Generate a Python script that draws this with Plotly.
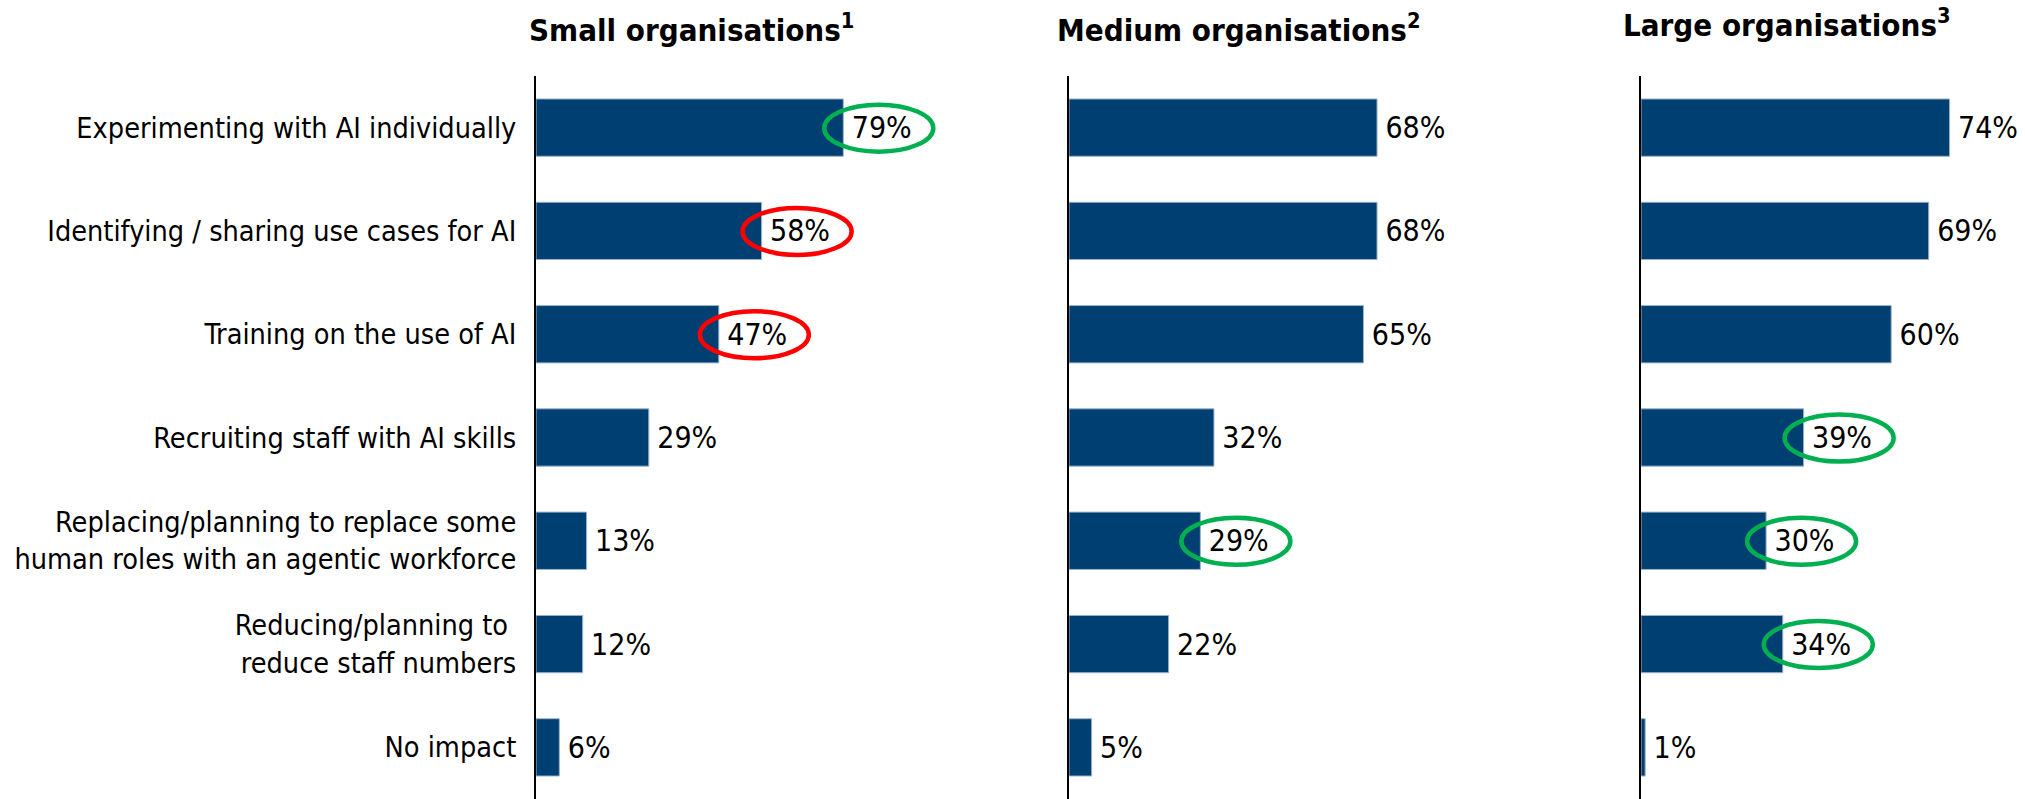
import plotly.graph_objects as go

categories = [
    "Experimenting with AI individually",
    "Identifying / sharing use cases for AI",
    "Training on the use of AI",
    "Recruiting staff with AI skills",
    "Replacing/planning to replace some<br>human roles with an agentic workforce",
    "Reducing/planning to <br>reduce staff numbers",
    "No impact",
]
small_values = [79, 58, 47, 29, 13, 12, 6]
medium_values = [68, 68, 65, 32, 29, 22, 5]
large_values = [74, 69, 60, 39, 30, 34, 1]
panel_titles = [
    "Small organisations<sup>1</sup>",
    "Medium organisations<sup>2</sup>",
    "Large organisations<sup>3</sup>",
]
# highlighted labels: (category index, colour key)
small_marks = [(0, "up"), (1, "down"), (2, "down")]
medium_marks = [(4, "up")]
large_marks = [(3, "up"), (4, "up"), (5, "up")]

W, H = 2025, 799
FONT = "DejaVu Sans Condensed, DejaVu Sans, Verdana, sans-serif"
BAR = "#003F72"
MARK_COL = {"up": "#00B050", "down": "#FF0000"}

# pixel layout
axis_px = [536, 1069, 1641]
px_per_unit = [3.89, 4.53, 4.17]
ranges = [120, 100, 90]
top_px = 76

fig = go.Figure()
panels = [small_values, medium_values, large_values]
marks = [small_marks, medium_marks, large_marks]
for i, vals in enumerate(panels):
    xa = "x" if i == 0 else f"x{i+1}"
    ya = "y" if i == 0 else f"y{i+1}"
    fig.add_trace(go.Bar(
        x=vals, y=categories, orientation="h",
        marker=dict(color=BAR, line=dict(color="#9DB4CC", width=1)),
        width=0.555,
        text=[f"\u2009{v}%" for v in vals],
        textposition="outside", constraintext="none", cliponaxis=False,
        textfont=dict(family=FONT, size=30, color="#000"),
        xaxis=xa, yaxis=ya, showlegend=False, hoverinfo="skip",
    ))
    x0 = axis_px[i] / W
    x1 = (axis_px[i] + px_per_unit[i] * ranges[i]) / W
    xkey = "xaxis" if i == 0 else f"xaxis{i+1}"
    ykey = "yaxis" if i == 0 else f"yaxis{i+1}"
    fig.update_layout({
        xkey: dict(domain=[x0, x1], range=[0, ranges[i]], visible=False,
                   anchor=ya, fixedrange=True),
        ykey: dict(domain=[0, 1 - top_px / H], anchor=xa,
                   categoryorder="array", categoryarray=categories,
                   autorange="reversed", showline=True, linecolor="#000",
                   linewidth=2, showgrid=False, zeroline=False,
                   showticklabels=(i == 0), ticks="",
                   ticklabelstandoff=12, fixedrange=True,
                   tickfont=dict(family=FONT, size=28.6, color="#000")),
    })
    for idx, key in marks[i]:
        fig.add_shape(
            type="circle", xref=xa, yref=ya,
            xsizemode="pixel", ysizemode="pixel",
            xanchor=vals[idx], yanchor=categories[idx],
            x0=-19, x1=90, y0=-24, y1=23,
            line=dict(color=MARK_COL[key], width=4.5),
            fillcolor="rgba(0,0,0,0)", layer="above",
        )

title_pos = [(527, 28), (1055, 28), (1621, 23)]
for (px, py), t in zip(title_pos, panel_titles):
    fig.add_annotation(
        x=px / W, y=1 - py / H, xref="paper", yref="paper",
        xanchor="left", yanchor="middle", showarrow=False,
        text=f"<b>{t}</b>",
        font=dict(family=FONT, size=31, color="#000"),
    )

fig.update_layout(
    width=W, height=H,
    margin=dict(l=0, r=0, t=0, b=0),
    paper_bgcolor="white", plot_bgcolor="white",
    bargap=0.445,
)
fig.write_html("out.html", config={"displayModeBar": False},
               post_script="document.body.style.margin='0';")
